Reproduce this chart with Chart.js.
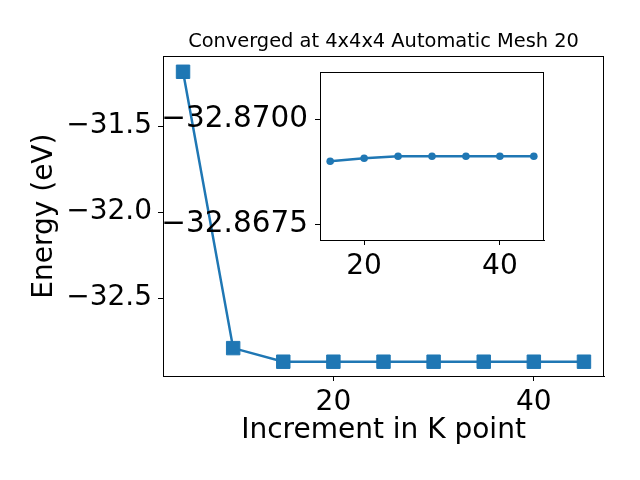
<!DOCTYPE html>
<html>
<head>
<meta charset="utf-8">
<script src="https://cdn.jsdelivr.net/npm/chart.js@4/dist/chart.umd.min.js"></script>
<style>
  body { margin: 0; background: #fff; }
  #wrap { position: relative; width: 640px; height: 480px; }
  #mainChart { position: absolute; left: 0; top: 0; }
  #insetChart { position: absolute; left: 150px; top: 62px; }
</style>
</head>
<body>
<div id="wrap">
  <canvas id="mainChart" width="640" height="480"></canvas>
  <canvas id="insetChart" width="400" height="220"></canvas>
</div>
<script>
const kPoints = [5, 10, 15, 20, 25, 30, 35, 40, 45];
const energies = [-31.185, -32.79, -32.869, -32.869, -32.869, -32.869, -32.869, -32.869, -32.869];

const insetK = [15, 20, 25, 30, 35, 40, 45];
const insetEnergies = [-32.86900, -32.86907, -32.86912, -32.86912, -32.86912, -32.86912, -32.86912];

const mainXTicks = [20, 40];
const mainYTicks = [-32.5, -32.0, -31.5];
const insetXTicks = [20, 40];
const insetYTicks = [-32.8700, -32.8675];

const blue = '#1f77b4';
Chart.defaults.font.family = 'DejaVu Sans';
Chart.defaults.color = '#000';

const minus = s => s.replace('-', '\u2212');

// box round the plot area, like the matplotlib spines
const frame = {
  id: 'frame',
  afterDraw(chart) {
    const a = chart.chartArea, ctx = chart.ctx;
    ctx.save();
    ctx.strokeStyle = '#000';
    ctx.lineWidth = 1;
    ctx.strokeRect(Math.round(a.left) + 0.5, Math.round(a.top) + 0.5,
      Math.round(a.right - a.left) - 1, Math.round(a.bottom - a.top));
    ctx.restore();
  }
};

function axis(ticks, fmt, pad, fontSize, extra) {
  return Object.assign({
    type: 'linear',
    afterBuildTicks: s => { s.ticks = ticks.map(v => ({ value: v })); },
    grid: { drawOnChartArea: false, drawTicks: true, tickLength: 5, color: '#000' },
    border: { display: true, color: '#000', width: 1 },
    ticks: { font: { size: fontSize }, padding: pad, callback: v => minus(fmt(v)) }
  }, extra);
}

new Chart(document.getElementById('mainChart'), {
  type: 'line',
  data: {
    datasets: [{
      data: kPoints.map((k, i) => ({ x: k, y: energies[i] })),
      borderColor: blue,
      backgroundColor: blue,
      borderWidth: 2.5,
      pointStyle: 'rect',
      pointRadius: 9.5,
      pointBorderWidth: 1,
      tension: 0
    }]
  },
  options: {
    responsive: false,
    animation: false,
    layout: { padding: { left: 0, right: 36, top: 0, bottom: 0 } },
    plugins: {
      legend: { display: false },
      tooltip: { enabled: false },
      title: {
        display: true,
        text: 'Converged at 4x4x4 Automatic Mesh 20',
        fullSize: false,
        color: '#000',
        font: { size: 19.4, weight: 'normal' },
        padding: { top: 30, bottom: 3 }
      }
    },
    scales: {
      x: axis(mainXTicks, v => String(v), 5, 28, {
        min: 3, max: 47,
        afterFit: s => { s.height = 104; },
        title: { display: true, text: 'Increment in K point', font: { size: 28 }, padding: { top: 0, bottom: 32 } }
      }),
      y: axis(mainYTicks, v => v.toFixed(1), 6, 28, {
        min: -32.952, max: -31.095,
        afterFit: s => { s.width = 163; },
        title: { display: true, text: 'Energy (eV)', font: { size: 28 }, padding: { top: 28, bottom: 0 } }
      })
    }
  },
  plugins: [frame]
});

new Chart(document.getElementById('insetChart'), {
  type: 'line',
  data: {
    datasets: [{
      data: insetK.map((k, i) => ({ x: k, y: insetEnergies[i] })),
      borderColor: blue,
      backgroundColor: blue,
      borderWidth: 2.5,
      pointStyle: 'circle',
      pointRadius: 3.8,
      pointBorderWidth: 0,
      tension: 0
    }]
  },
  options: {
    responsive: false,
    animation: false,
    layout: { padding: { left: 0, right: 6, top: 10, bottom: 0 } },
    plugins: { legend: { display: false }, tooltip: { enabled: false } },
    scales: {
      x: axis(insetXTicks, v => String(v), 5, 28, {
        min: 13.5, max: 46.5,
        afterFit: s => { s.height = 42; s.paddingLeft = 0; s.paddingRight = 0; }
      }),
      y: axis(insetYTicks, v => v.toFixed(4), 7, 29.5, {
        reverse: true,
        min: -32.87113, max: -32.86712,
        afterFit: s => { s.width = 170; s.paddingTop = 0; s.paddingBottom = 0; }
      })
    }
  },
  plugins: [frame]
});
</script>
</body>
</html>
